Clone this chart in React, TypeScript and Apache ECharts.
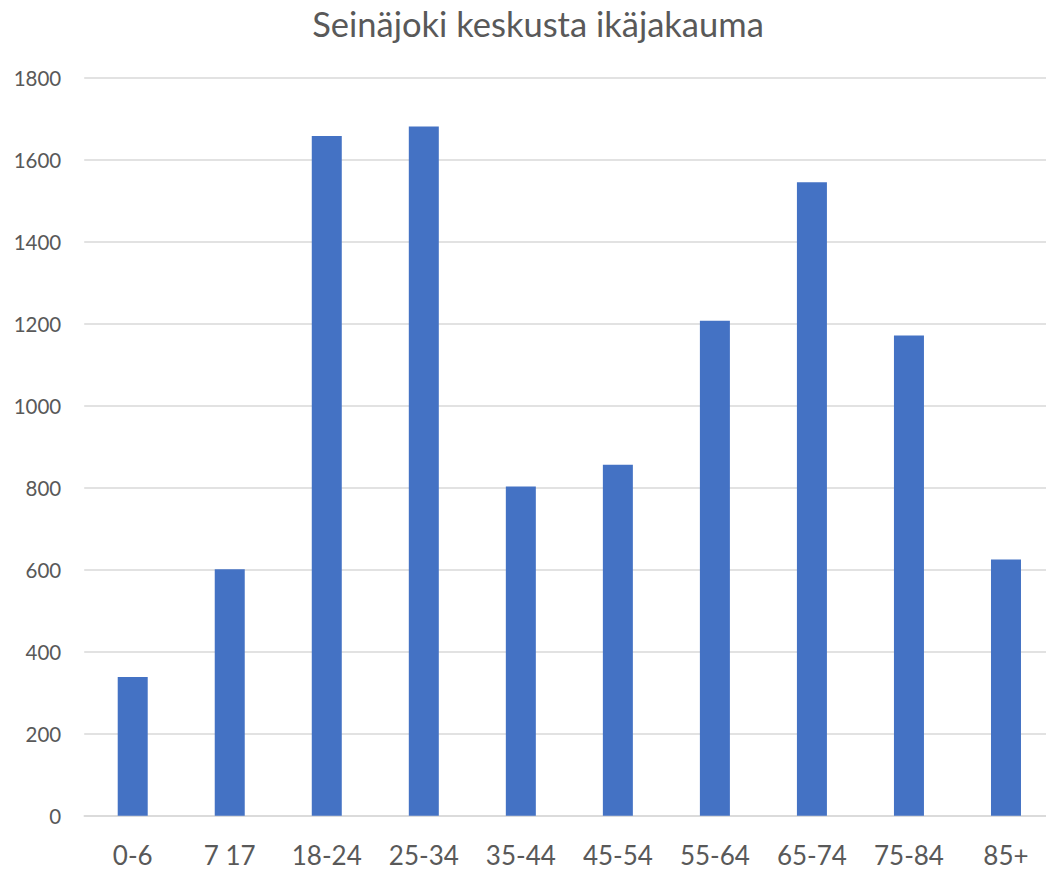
import React, { useEffect, useRef } from "react";
import * as echarts from "echarts";

const title = "Seinäjoki keskusta ikäjakauma";
const categories = ["0-6", "7 17", "18-24", "25-34", "35-44", "45-54", "55-64", "65-74", "75-84", "85+"];
const values = [338, 601, 1658, 1681, 803, 856, 1207, 1545, 1171, 625];

export default function App() {
  const ref = useRef<HTMLDivElement>(null);
  useEffect(() => {
    if (!ref.current) return;
    const chart = echarts.init(ref.current, null, { renderer: "svg" });
    chart.setOption({
      animation: false,
      backgroundColor: "#ffffff",
      graphic: [
        {
          type: "text",
          x: 538,
          y: 23,
          style: {
            text: title,
            fontFamily: "Lato",
            fontSize: 34.5,
            fill: "#595959",
            textAlign: "center",
            textVerticalAlign: "middle",
          },
        },
      ],
      grid: { left: 84.2, top: 77.7, width: 970.3, height: 738 },
      xAxis: {
        type: "category",
        data: categories,
        axisLine: { show: true, lineStyle: { color: "#D9D9D9", width: 1.5 } },
        axisTick: { show: false },
        axisLabel: { fontFamily: "Lato", fontSize: 26, color: "#595959", margin: 26 },
      },
      yAxis: {
        type: "value",
        min: 0,
        max: 1800,
        interval: 200,
        axisLine: { show: false },
        axisTick: { show: false },
        splitLine: { lineStyle: { color: "#D9D9D9", width: 1.5 } },
        axisLabel: {
          fontFamily: "Lato",
          fontSize: 20.5,
          color: "#595959",
          margin: 23,
          formatter: (v: number) => String(v),
        },
      },
      series: [
        {
          type: "bar",
          data: values,
          barWidth: 30,
          itemStyle: { color: "#4472C4" },
        },
      ],
    });
    return () => chart.dispose();
  }, []);
  return (
    <div style={{ position: "absolute", left: 0, top: 0, width: 1046, height: 872, overflow: "hidden", background: "#fff" }}>
      <div ref={ref} style={{ width: 1056, height: 872 }} />
    </div>
  );
}
